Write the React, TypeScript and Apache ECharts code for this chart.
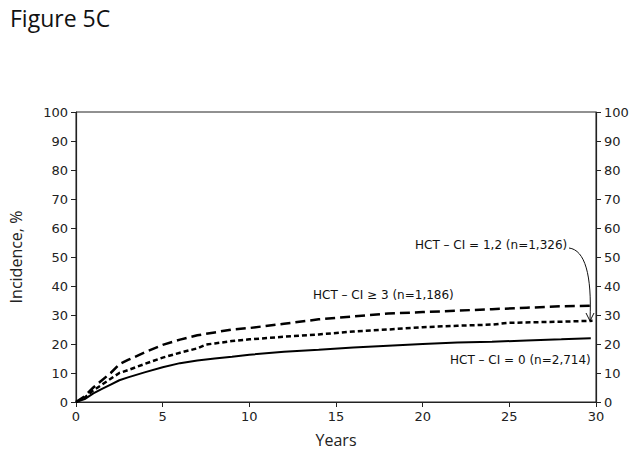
import React, { useEffect, useRef } from "react";
import * as echarts from "echarts";

const years0 = [0, 0.5, 1, 1.5, 2, 2.5, 3, 4, 5, 6, 7, 8, 9, 10, 12, 14, 16, 18, 20, 22, 24, 26, 28, 29.7];
const ci0 = [0, 1, 3, 4.5, 6, 7.5, 8.5, 10.3, 12, 13.4, 14.3, 15, 15.6, 16.3, 17.3, 18, 18.8, 19.4, 20, 20.5, 20.8, 21.2, 21.6, 22];

const years12 = [0, 0.5, 1, 1.5, 2, 2.5, 3, 4, 5, 6, 7, 7.5, 8, 9, 10, 12, 14, 16, 18, 20, 22, 24, 25, 28, 29.8];
const ci12 = [0, 1.5, 4, 6, 8, 10, 11, 13.2, 15.3, 17, 18.5, 19.8, 20.2, 21, 21.6, 22.5, 23.3, 24.3, 25, 25.8, 26.3, 26.7, 27.3, 27.7, 28];

const years3 = [0, 0.5, 1, 1.5, 2, 2.5, 3, 4, 5, 6, 7, 8, 9, 10, 12, 14, 16, 18, 20, 22, 24, 26, 28, 29.8];
const ci3 = [0, 2, 5, 7.5, 10, 13, 14.5, 17.2, 19.7, 21.5, 23, 24, 25, 25.5, 27, 28.5, 29.5, 30.5, 31, 31.5, 32, 32.5, 33, 33.2];

const labelCI0 = "HCT – CI = 0 (n=2,714)";
const labelCI12 = "HCT – CI = 1,2 (n=1,326)";
const labelCI3 = "HCT – CI ≥ 3 (n=1,186)";

const pair = (xs: number[], ys: number[]) => xs.map((x, i) => [x, ys[i]]);

export default function App() {
  const ref = useRef<HTMLDivElement>(null);
  useEffect(() => {
    const chart = echarts.init(ref.current!, null, { renderer: "svg" });
    const tickFont = { fontFamily: "DejaVu Sans", fontSize: 13, color: "#222" };
    const yAxisCommon = {
      type: "value" as const,
      min: 0,
      max: 100,
      interval: 10,
      splitLine: { show: false },
      axisLine: { show: true, lineStyle: { color: "#222", width: 1.2 } },
      axisTick: { show: true, length: 5, lineStyle: { color: "#222" } },
    };
    chart.setOption({
      animation: false,
      backgroundColor: "#fff",
      title: {
        text: "Figure 5C",
        left: 5,
        top: 1,
        textStyle: { fontFamily: "Open Sans", fontSize: 23, fontWeight: "normal", color: "#111" },
      },
      grid: {
        left: 76,
        right: 41,
        top: 112,
        bottom: 49,
        show: true,
        borderColor: "#222",
        borderWidth: 1,
      },
      xAxis: {
        type: "value",
        min: 0,
        max: 30,
        interval: 5,
        name: "Years",
        nameLocation: "middle",
        nameGap: 30,
        nameTextStyle: { fontFamily: "Open Sans", fontSize: 16, color: "#222" },
        splitLine: { show: false },
        axisLine: { show: true, lineStyle: { color: "#222", width: 1.2 } },
        axisTick: { show: true, length: 5, lineStyle: { color: "#222" } },
        axisLabel: { ...tickFont, margin: 8 },
      },
      yAxis: [
        {
          ...yAxisCommon,
          position: "left",
          name: "Incidence, %",
          nameLocation: "middle",
          nameGap: 52,
          nameTextStyle: { fontFamily: "Open Sans", fontSize: 16, color: "#222" },
          axisLabel: { ...tickFont, margin: 8 },
        },
        {
          ...yAxisCommon,
          position: "right",
          axisLabel: { ...tickFont, margin: 8 },
        },
      ],
      series: [
        {
          type: "line",
          data: pair(years0, ci0),
          showSymbol: false,
          lineStyle: { color: "#000", width: 2, type: "solid" },
        },
        {
          type: "line",
          data: pair(years12, ci12),
          showSymbol: false,
          lineStyle: { color: "#000", width: 2.5, type: [5, 3] },
        },
        {
          type: "line",
          data: pair(years3, ci3),
          showSymbol: false,
          lineStyle: { color: "#000", width: 2.5, type: [10, 5] },
        },
      ],
      graphic: [
        {
          type: "text",
          left: 415,
          top: 239,
          style: { text: labelCI12, fontFamily: "DejaVu Sans", fontSize: 12, fill: "#111" },
        },
        {
          type: "text",
          left: 313,
          top: 289,
          style: { text: labelCI3, fontFamily: "DejaVu Sans", fontSize: 12, fill: "#111" },
        },
        {
          type: "text",
          left: 450,
          top: 354,
          style: { text: labelCI0, fontFamily: "DejaVu Sans", fontSize: 12, fill: "#111" },
        },
        {
          type: "bezierCurve",
          shape: { x1: 569, y1: 248, cpx1: 585, cpy1: 250, cpx2: 592, cpy2: 275, x2: 590, y2: 320 },
          style: { stroke: "#111", lineWidth: 1, fill: null },
        },
        {
          type: "polyline",
          shape: { points: [[586, 313], [590, 321], [594, 313]] },
          style: { stroke: "#111", lineWidth: 1, fill: null },
        },
      ],
    });
    return () => chart.dispose();
  }, []);
  return (
    <div
      ref={ref}
      style={{ position: "absolute", left: 0, top: 0, width: 637, height: 453 }}
    />
  );
}
